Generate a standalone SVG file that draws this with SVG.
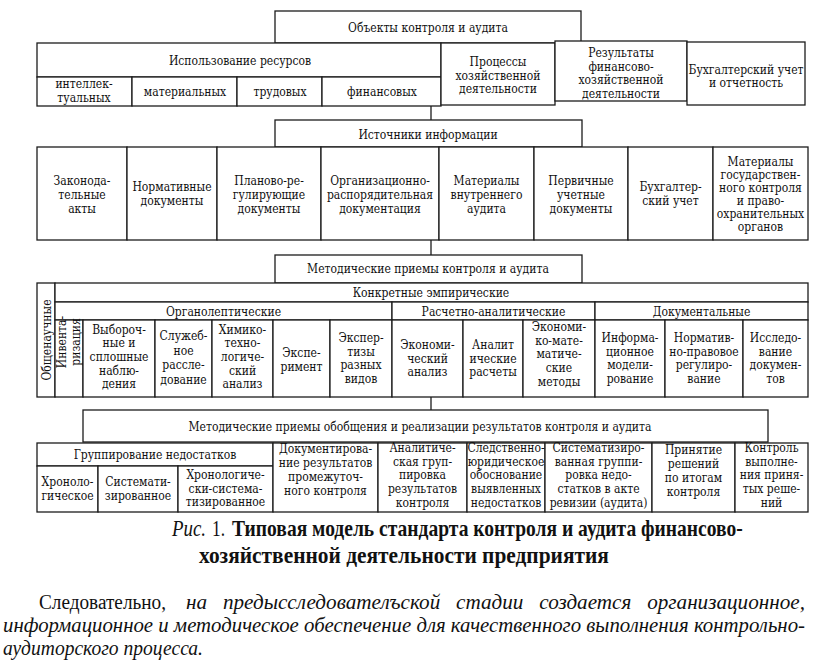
<svg xmlns="http://www.w3.org/2000/svg" width="816" height="660" viewBox="0 0 816 660">
<style>
rect{fill:#fff;stroke:#1c1c1c;stroke-width:1.3}
.c line{stroke:#1c1c1c;stroke-width:1.3}
text{font-family:"DejaVu Serif Condensed","DejaVu Serif",serif;font-stretch:condensed;font-size:12px;fill:#111;text-anchor:middle}
.cap{font-family:"Liberation Serif",serif;font-stretch:normal;font-size:24px;text-anchor:start}
.par{font-family:"Liberation Serif",serif;font-stretch:normal;font-size:20px;text-anchor:start}
</style>
<rect x="0" y="0" width="816" height="660" style="stroke:none;fill:#fff"/>

<!-- Section 1 -->
<g id="n-objects"><rect x="275" y="11" width="306" height="32"/><text x="428" y="32">Объекты контроля и аудита</text></g>
<g id="n-resources"><rect x="37" y="43" width="404" height="34"/><text x="240" y="65">Использование ресурсов</text></g>
<g id="n-res-intel"><rect x="37" y="77" width="95" height="29"/><text x="84"><tspan x="84" y="88">интеллек-</tspan><tspan x="84" y="102">туальных</tspan></text></g>
<g id="n-res-mat"><rect x="132" y="77" width="105" height="29"/><text x="185" y="96">материальных</text></g>
<g id="n-res-lab"><rect x="237" y="77" width="85" height="29"/><text x="280" y="96">трудовых</text></g>
<g id="n-res-fin"><rect x="322" y="77" width="119" height="29"/><text x="382" y="96">финансовых</text></g>
<g id="n-processes"><rect x="441" y="43" width="114" height="62"/><text><tspan x="498" y="66">Процессы</tspan><tspan x="498" y="79.5">хозяйственной</tspan><tspan x="498" y="93">деятельности</tspan></text></g>
<g id="n-results"><rect x="555" y="41" width="132" height="60"/><text><tspan x="621" y="57">Результаты</tspan><tspan x="621" y="70.5">финансово-</tspan><tspan x="621" y="84">хозяйственной</tspan><tspan x="621" y="97.5">деятельности</tspan></text></g>
<g id="n-accounting"><rect x="687" y="42" width="118" height="63"/><text><tspan x="746" y="74">Бухгалтерский учет</tspan><tspan x="746" y="87">и отчетность</tspan></text></g>

<!-- Section 2 -->
<g id="n-sources"><rect x="275" y="120" width="307" height="27"/><text x="428" y="139">Источники информации</text></g>
<g id="n-src-1"><rect x="37" y="147" width="90" height="93"/><text><tspan x="82" y="185">Законода-</tspan><tspan x="82" y="199">тельные</tspan><tspan x="82" y="213">акты</tspan></text></g>
<g id="n-src-2"><rect x="127" y="147" width="90" height="93"/><text><tspan x="172" y="191">Нормативные</tspan><tspan x="172" y="205">документы</tspan></text></g>
<g id="n-src-3"><rect x="217" y="147" width="104" height="93"/><text><tspan x="269" y="185">Планово-ре-</tspan><tspan x="269" y="199">гулирующие</tspan><tspan x="269" y="213">документы</tspan></text></g>
<g id="n-src-4"><rect x="321" y="147" width="118" height="93"/><text><tspan x="380" y="185">Организационно-</tspan><tspan x="380" y="199">распорядительная</tspan><tspan x="380" y="213">документация</tspan></text></g>
<g id="n-src-5"><rect x="439" y="147" width="95" height="93"/><text><tspan x="486.5" y="185">Материалы</tspan><tspan x="486.5" y="199">внутреннего</tspan><tspan x="486.5" y="213">аудита</tspan></text></g>
<g id="n-src-6"><rect x="534" y="147" width="94" height="93"/><text><tspan x="581" y="185">Первичные</tspan><tspan x="581" y="199">учетные</tspan><tspan x="581" y="213">документы</tspan></text></g>
<g id="n-src-7"><rect x="628" y="147" width="85" height="93"/><text><tspan x="670.5" y="191">Бухгалтер-</tspan><tspan x="670.5" y="205">ский учет</tspan></text></g>
<g id="n-src-8"><rect x="713" y="147" width="95" height="93"/><text><tspan x="760.5" y="166">Материалы</tspan><tspan x="760.5" y="179">государствен-</tspan><tspan x="760.5" y="192">ного контроля</tspan><tspan x="760.5" y="205">и право-</tspan><tspan x="760.5" y="218">охранительных</tspan><tspan x="760.5" y="231">органов</tspan></text></g>

<!-- Section 3 -->
<g id="n-methods"><rect x="275" y="255" width="307" height="28"/><text x="428" y="273">Методические приемы контроля и аудита</text></g>
<g id="n-general"><rect x="37" y="283" width="18" height="114"/><text transform="translate(50.5,340) rotate(-90)" x="0" y="0">Общенаучные</text></g>
<g id="n-concrete"><rect x="55" y="283" width="753" height="19"/><text x="431" y="297">Конкретные эмпирические</text></g>
<g id="n-organo"><rect x="55" y="302" width="337" height="18"/><text x="223.5" y="316">Органолептические</text></g>
<g id="n-calc"><rect x="392" y="302" width="203" height="18"/><text x="493.5" y="316">Расчетно-аналитические</text></g>
<g id="n-docum"><rect x="595" y="302" width="213" height="18"/><text x="701.5" y="316">Документальные</text></g>
<g id="n-m-inv"><rect x="55" y="320" width="28" height="77"/><text transform="translate(66,342) rotate(-90)"><tspan x="0" y="0">Инвента-</tspan><tspan x="0" y="13.5">ризация</tspan></text></g>
<g id="n-m-obs"><rect x="83" y="320" width="72" height="77"/><text><tspan x="119" y="333.5">Выбороч-</tspan><tspan x="119" y="347.2">ные и</tspan><tspan x="119" y="360.9">сплошные</tspan><tspan x="119" y="374.6">наблю-</tspan><tspan x="119" y="388.3">дения</tspan></text></g>
<g id="n-m-inq"><rect x="155" y="320" width="57" height="77"/><text><tspan x="183.5" y="340">Служеб-</tspan><tspan x="183.5" y="354.5">ное</tspan><tspan x="183.5" y="369">рассле-</tspan><tspan x="183.5" y="383.5">дование</tspan></text></g>
<g id="n-m-chem"><rect x="212" y="320" width="61" height="77"/><text><tspan x="242.5" y="333.5">Химико-</tspan><tspan x="242.5" y="347.2">техно-</tspan><tspan x="242.5" y="360.9">логиче-</tspan><tspan x="242.5" y="374.6">ский</tspan><tspan x="242.5" y="388.3">анализ</tspan></text></g>
<g id="n-m-exp"><rect x="273" y="320" width="57" height="77"/><text><tspan x="301.5" y="357">Экспе-</tspan><tspan x="301.5" y="371">римент</tspan></text></g>
<g id="n-m-expert"><rect x="330" y="320" width="62" height="77"/><text><tspan x="361" y="342">Экспер-</tspan><tspan x="361" y="355.5">тизы</tspan><tspan x="361" y="369">разных</tspan><tspan x="361" y="382.5">видов</tspan></text></g>
<g id="n-m-econ"><rect x="392" y="320" width="71" height="77"/><text><tspan x="427.5" y="349">Экономи-</tspan><tspan x="427.5" y="362.5">ческий</tspan><tspan x="427.5" y="376">анализ</tspan></text></g>
<g id="n-m-analc"><rect x="463" y="320" width="60" height="77"/><text><tspan x="493" y="349">Аналит</tspan><tspan x="493" y="362.5">ические</tspan><tspan x="493" y="376">расчеты</tspan></text></g>
<g id="n-m-math"><rect x="523" y="320" width="72" height="77"/><text><tspan x="559" y="331">Экономи-</tspan><tspan x="559" y="344.7">ко-мате-</tspan><tspan x="559" y="358.4">матиче-</tspan><tspan x="559" y="372.1">ские</tspan><tspan x="559" y="385.8">методы</tspan></text></g>
<g id="n-m-info"><rect x="595" y="320" width="70" height="77"/><text><tspan x="630" y="342">Информа-</tspan><tspan x="630" y="355.5">ционное</tspan><tspan x="630" y="369">модели-</tspan><tspan x="630" y="382.5">рование</tspan></text></g>
<g id="n-m-norm"><rect x="665" y="320" width="78" height="77"/><text><tspan x="704" y="342">Норматив-</tspan><tspan x="704" y="355.5">но-правовое</tspan><tspan x="704" y="369">регулиро-</tspan><tspan x="704" y="382.5">вание</tspan></text></g>
<g id="n-m-docs"><rect x="743" y="320" width="65" height="77"/><text><tspan x="775.5" y="342">Исследо-</tspan><tspan x="775.5" y="355.5">вание</tspan><tspan x="775.5" y="369">докумен-</tspan><tspan x="775.5" y="382.5">тов</tspan></text></g>

<!-- Section 4 -->
<g id="n-generalize"><rect x="83" y="410" width="685" height="32"/><text x="420" y="431">Методические приемы обобщения и реализации результатов контроля и аудита</text></g>
<g id="n-grouping"><rect x="37" y="443" width="236" height="23"/><text x="155" y="459">Группирование недостатков</text></g>
<g id="n-g-chrono"><rect x="37" y="466" width="61" height="46"/><text><tspan x="67.5" y="486">Хроноло-</tspan><tspan x="67.5" y="499.5">гическое</tspan></text></g>
<g id="n-g-sys"><rect x="98" y="466" width="80" height="46"/><text><tspan x="138" y="486">Системати-</tspan><tspan x="138" y="499.5">зированное</tspan></text></g>
<g id="n-g-chsys"><rect x="178" y="466" width="95" height="46"/><text><tspan x="225.5" y="479">Хронологиче-</tspan><tspan x="225.5" y="492.5">ски-система-</tspan><tspan x="225.5" y="506">тизированное</tspan></text></g>
<g id="n-r-doc"><rect x="273" y="443" width="105" height="69"/><text><tspan x="325.5" y="453">Документирова-</tspan><tspan x="325.5" y="467">ние результатов</tspan><tspan x="325.5" y="481">промежуточ-</tspan><tspan x="325.5" y="495">ного контроля</tspan></text></g>
<g id="n-r-anal"><rect x="378" y="443" width="89" height="69"/><text><tspan x="422.5" y="452">Аналитиче-</tspan><tspan x="422.5" y="465.7">ская груп-</tspan><tspan x="422.5" y="479.4">пировка</tspan><tspan x="422.5" y="493.1">результатов</tspan><tspan x="422.5" y="506.8">контроля</tspan></text></g>
<g id="n-r-jur"><rect x="467" y="443" width="78" height="69"/><text><tspan x="506" y="452">Следственно-</tspan><tspan x="506" y="465.7">юридическое</tspan><tspan x="506" y="479.4">обоснование</tspan><tspan x="506" y="493.1">выявленных</tspan><tspan x="506" y="506.8">недостатков</tspan></text></g>
<g id="n-r-act"><rect x="545" y="443" width="107" height="69"/><text><tspan x="598.5" y="452">Систематизиро-</tspan><tspan x="598.5" y="465.7">ванная группи-</tspan><tspan x="598.5" y="479.4">ровка недо-</tspan><tspan x="598.5" y="493.1">статков в акте</tspan><tspan x="598.5" y="506.8">ревизии (аудита)</tspan></text></g>
<g id="n-r-dec"><rect x="652" y="443" width="83" height="69"/><text><tspan x="693.5" y="454">Принятие</tspan><tspan x="693.5" y="468">решений</tspan><tspan x="693.5" y="482">по итогам</tspan><tspan x="693.5" y="496">контроля</tspan></text></g>
<g id="n-r-ctrl"><rect x="735" y="443" width="73" height="69"/><text><tspan x="771.5" y="452">Контроль</tspan><tspan x="771.5" y="465.7">выполне-</tspan><tspan x="771.5" y="479.4">ния приня-</tspan><tspan x="771.5" y="493.1">тых реше-</tspan><tspan x="771.5" y="506.8">ний</tspan></text></g>

<!-- Connectors -->
<g id="connectors" class="c">
<line x1="431" y1="106" x2="431" y2="120"/>
<line x1="431" y1="240" x2="431" y2="255"/>
<line x1="431" y1="397" x2="431" y2="410"/>
</g>

<!-- Caption -->
<text class="cap" transform="matrix(0.84 0 0 1 172 536)" x="0" y="0" textLength="40.5" lengthAdjust="spacingAndGlyphs" font-style="italic">Рис.</text>
<text class="cap" transform="matrix(0.84 0 0 1 212 536)" x="0" y="0" textLength="15.5" lengthAdjust="spacingAndGlyphs">1.</text>
<text class="cap" transform="matrix(0.84 0 0 1 232 536)" x="0" y="0" textLength="608" lengthAdjust="spacingAndGlyphs" font-weight="bold">Типовая модель стандарта контроля и аудита финансово-</text>
<text class="cap" transform="matrix(0.84 0 0 1 199 563)" x="0" y="0" textLength="488" lengthAdjust="spacingAndGlyphs" font-weight="bold">хозяйственной деятельности предприятия</text>

<!-- Paragraph -->
<text class="par" x="39" y="609" textLength="127" lengthAdjust="spacingAndGlyphs">Следовательно,</text>
<text class="par" x="186" y="609" textLength="619" lengthAdjust="spacingAndGlyphs" word-spacing="10" font-style="italic">на предысследователъской стадии создается организационное,</text>
<text class="par" x="3" y="632" textLength="802" lengthAdjust="spacingAndGlyphs" font-style="italic">информационное и методическое обеспечение для качественного выполнения контрольно-</text>
<text class="par" x="3" y="655" textLength="200" lengthAdjust="spacingAndGlyphs" font-style="italic">аудиторского процесса.</text>
</svg>
